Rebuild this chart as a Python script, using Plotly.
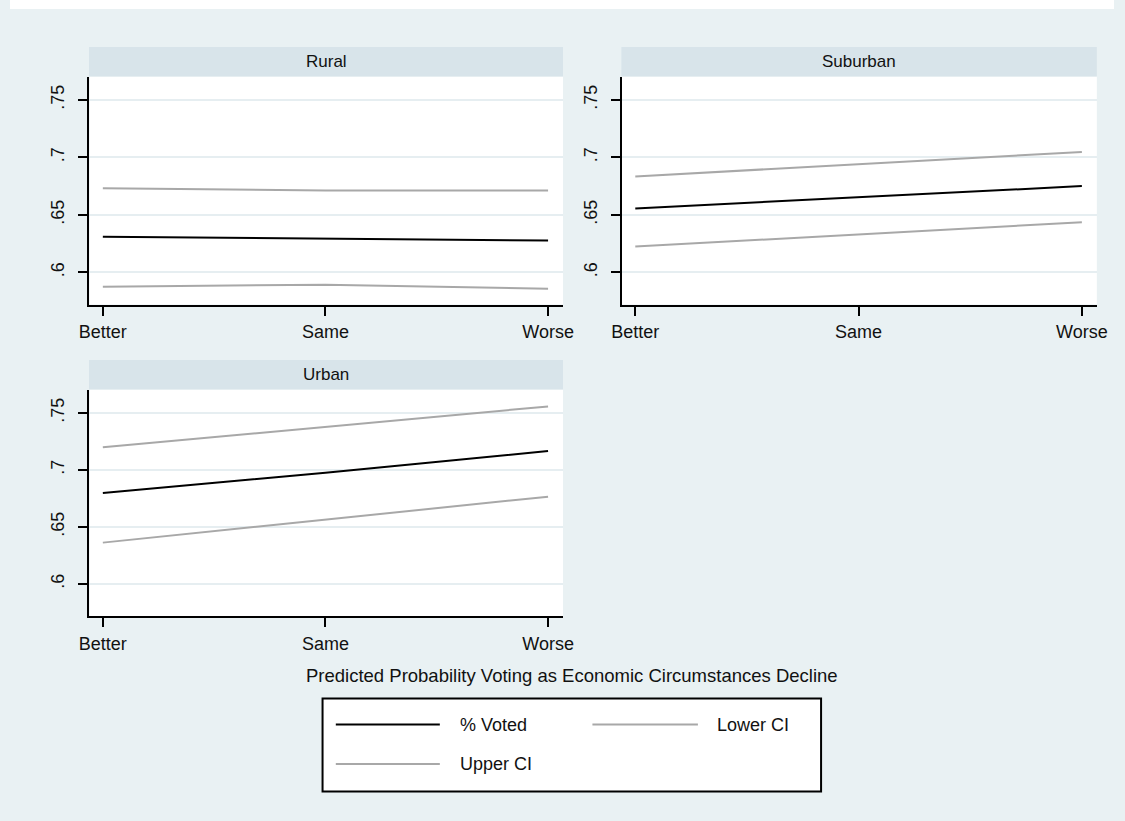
import plotly.graph_objects as go

# Economic outlook categories (x axis)
categories = ["Better", "Same", "Worse"]
panels = ["Rural", "Suburban", "Urban"]

# Predicted probability of voting with 95% CI, by residence type
voted_rural = [0.6309, 0.6294, 0.6277]
lower_rural = [0.5875, 0.5892, 0.5857]
upper_rural = [0.6733, 0.6712, 0.6713]

voted_suburban = [0.6556, 0.6653, 0.6751]
lower_suburban = [0.6224, 0.6331, 0.6437]
upper_suburban = [0.6835, 0.6942, 0.7048]

voted_urban = [0.6798, 0.6975, 0.7166]
lower_urban = [0.6363, 0.6565, 0.6766]
upper_urban = [0.7198, 0.7375, 0.7557]

y_tickvals = [0.6, 0.65, 0.7, 0.75]
y_ticktext = [".6", ".65", ".7", ".75"]

series_names = ["% Voted", "Lower CI", "Upper CI"]

W, H = 1125, 821
BG = "#e9f1f3"
STRIP = "#d8e4ea"
GRID = "#e6eef1"
GRAY = "#a8a8a8"
FONT = "Liberation Sans, Arial, sans-serif"
TXT = "#111111"


def px(x):
    return x / W


def py(y):
    return 1 - y / H


# Panel geometry (pixels): (left, right, top, bottom)
boxes = {
    "Rural": (81, 563.5, 76.5, 304.5),
    "Suburban": (623.5, 1107.5, 76.5, 304.5),
    "Urban": (81, 563.5, 389.5, 616),
}
strip_h = 29.5

data = {
    "Rural": (voted_rural, lower_rural, upper_rural),
    "Suburban": (voted_suburban, lower_suburban, upper_suburban),
    "Urban": (voted_urban, lower_urban, upper_urban),
}

fig = go.Figure()
layout = dict(
    width=W, height=H, autosize=False,
    margin=dict(l=0, r=0, t=0, b=0),
    paper_bgcolor=BG, plot_bgcolor="white",
    showlegend=False,
    font=dict(family=FONT, size=17, color=TXT),
)
shapes = []
annotations = []

for i, name in enumerate(panels, start=1):
    suffix = "" if i == 1 else str(i)
    l, r, t, b = boxes[name]
    voted, lower, upper = data[name]
    colors = ["black", GRAY, GRAY]
    for ser, vals, col in zip(series_names, (voted, lower, upper), colors):
        fig.add_trace(go.Scatter(
            x=categories, y=vals, mode="lines", name=ser,
            line=dict(color=col, width=2),
            xaxis="x" + suffix, yaxis="y" + suffix,
        ))
    layout["xaxis" + suffix] = dict(
        domain=[px(l), px(r)], anchor="y" + suffix,
        type="category", categoryorder="array", categoryarray=categories,
        range=[-0.06, 2.067],
        showline=True, linecolor="black", linewidth=2,
        ticks="outside", ticklen=9, tickwidth=2, tickcolor="black",
        showgrid=False, zeroline=False,
        tickfont=dict(family=FONT, size=18, color=TXT),
        ticklabelstandoff=1,
    )
    layout["yaxis" + suffix] = dict(
        domain=[py(b), py(t)], anchor="x" + suffix,
        range=[0.572, 0.7705],
        tickvals=y_tickvals, ticktext=y_ticktext, tickangle=-90,
        showline=True, linecolor="black", linewidth=2,
        ticks="outside", ticklen=9, tickwidth=2, tickcolor="black",
        showgrid=True, gridcolor=GRID, gridwidth=2, zeroline=False,
        tickfont=dict(family=FONT, size=18, color=TXT),
        ticklabelstandoff=7,
    )
    # title strip above each panel
    shapes.append(dict(
        type="rect", xref="paper", yref="paper",
        x0=px(l - 0.5), x1=px(r), y0=py(t), y1=py(t - strip_h),
        fillcolor=STRIP, line=dict(width=0), layer="below",
    ))
    annotations.append(dict(
        text=name, xref="paper", yref="paper",
        x=px((l + r) / 2), y=py(t - strip_h / 2),
        xanchor="center", yanchor="middle", showarrow=False,
        font=dict(family=FONT, size=17, color=TXT),
    ))

# white outer border along the top
shapes.append(dict(type="rect", xref="paper", yref="paper",
                   x0=0, x1=1, y0=py(9), y1=1,
                   fillcolor="white", line=dict(width=0)))

# overall x-axis title
annotations.append(dict(
    text="Predicted Probability Voting as Economic Circumstances Decline",
    xref="paper", yref="paper", x=px(573), y=py(675),
    xanchor="center", yanchor="middle", showarrow=False,
    font=dict(family=FONT, size=18.5, color=TXT),
))

# legend box
shapes.append(dict(type="rect", xref="paper", yref="paper",
                   x0=px(318.5), x1=px(826.5), y0=py(791.5), y1=py(698.5),
                   fillcolor="white", line=dict(color="black", width=2)))
legend_items = [
    (series_names[0], "black", 332, 438, 456.5, 724.5),
    (series_names[1], GRAY, 593.5, 701, 718, 724.5),
    (series_names[2], GRAY, 332, 438, 456.5, 764),
]
for label, col, x0, x1, tx, yy in legend_items:
    shapes.append(dict(type="line", xref="paper", yref="paper",
                       x0=px(x0), x1=px(x1), y0=py(yy), y1=py(yy),
                       line=dict(color=col, width=2)))
    annotations.append(dict(
        text=label, xref="paper", yref="paper", x=px(tx), y=py(yy),
        xanchor="left", yanchor="middle", showarrow=False,
        font=dict(family=FONT, size=18, color=TXT),
    ))

layout["shapes"] = shapes
layout["annotations"] = annotations
fig.update_layout(**layout)
fig.write_html("out.html")
